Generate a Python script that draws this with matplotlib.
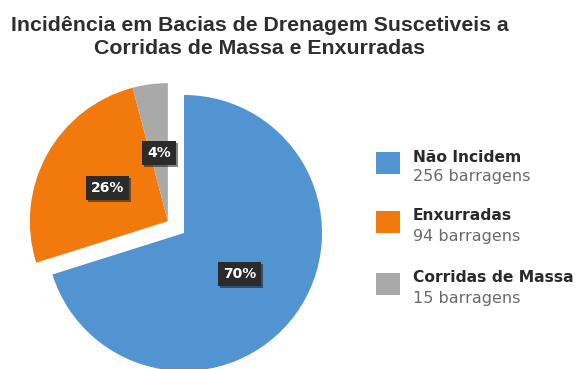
import matplotlib
matplotlib.use("Agg")
import matplotlib.pyplot as plt
import matplotlib.patheffects as pe
import numpy as np

# Data
categories = ["Não Incidem", "Enxurradas", "Corridas de Massa"]
counts = [256, 94, 15]
colors = ["#5294D2", "#F27A0C", "#A9A9A9"]
title = "Incidência em Bacias de Drenagem Suscetiveis a\nCorridas de Massa e Enxurradas"

W, H = 579, 369
fig = plt.figure(figsize=(W / 100, H / 100), dpi=100)
fig.patch.set_facecolor("white")
ax = fig.add_axes([0, 0, 1, 1])

center = (184, H - 233)
radius = 138
wedges, texts, autotexts = ax.pie(
    counts, colors=colors, startangle=90, counterclock=False,
    center=center, radius=radius, autopct="%.0f%%", pctdistance=0.5,
    frame=False, wedgeprops=dict(linewidth=0),
    textprops=dict(color="white", fontsize=10, fontweight="bold",
                   family="DejaVu Sans"),
)

# Pull the two smaller slices out together along their shared bisector
total = sum(counts)
start = 90 - 360 * counts[0] / total
mid = np.deg2rad((start + (90 - 360)) / 2)
shift = 0.145 * radius
dx, dy = shift * np.cos(mid), shift * np.sin(mid)
for w, t in zip(wedges[1:], autotexts[1:]):
    cx, cy = w.center
    w.set_center((cx + dx, cy + dy))
    x, y = t.get_position()
    t.set_position((x + dx, y + dy))

for t in autotexts:
    t.set_bbox(dict(boxstyle="square,pad=0.35", facecolor="#2B2B2B",
                    edgecolor="none"))
    t.get_bbox_patch().set_path_effects(
        [pe.SimplePatchShadow(offset=(1.5, -1.5), alpha=0.5), pe.Normal()])

ax.set_xlim(0, W)
ax.set_ylim(0, H)
ax.set_aspect("equal")
ax.axis("off")

fig.text(0.449, 1 - 37 / H, title, ha="center", va="center",
         fontsize=15.3, fontweight="bold", color="#2E2E2E",
         family="Liberation Sans", linespacing=1.3)

# Legend
rows_y = [163, 222, 284]
subs = [f"{c} barragens" for c in counts]
for cat, sub, col, yc in zip(categories, subs, colors, rows_y):
    ax.add_patch(plt.Rectangle((376, H - yc - 11), 24, 22, facecolor=col,
                               edgecolor="none"))
    ax.text(413, H - yc + 6, cat, ha="left", va="center", fontsize=11.2,
            fontweight="bold", color="#2A2A2A", family="DejaVu Sans")
    ax.text(413, H - yc - 14, sub, ha="left", va="center", fontsize=11.5,
            color="#6A6A6A", family="DejaVu Sans")

fig.savefig("out.png", dpi=100, facecolor="white")
